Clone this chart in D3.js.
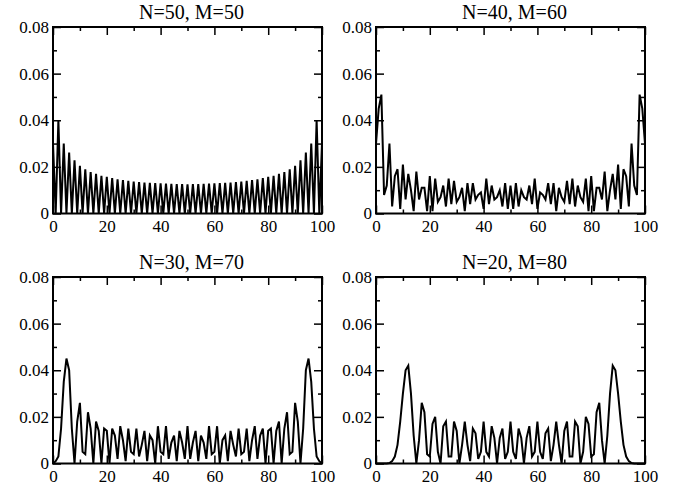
<!DOCTYPE html>
<html>
<head>
<meta charset="utf-8">
<script src="https://cdn.jsdelivr.net/npm/d3@7"></script>
<style>
  body { margin: 0; background: #fff; }
  text { font-family: "Liberation Serif", "Times New Roman", serif; fill: #000; }
</style>
</head>
<body>
<div id="my_dataviz"></div>
<script>
titles = ["N=50, M=50", "N=40, M=60", "N=30, M=70", "N=20, M=80"]

xTicks = [0, 20, 40, 60, 80, 100]
xMinor = [10, 30, 50, 70, 90]
yTicks = [0, 0.02, 0.04, 0.06, 0.08]
yMinor = [0.01, 0.03, 0.05, 0.07]

sites = d3.range(0, 101)

// N=50, M=50
p1 = [0.030,0,0.040,0,0.030,0,0.0262,0,0.0228,0,0.0205,0,0.0190,0,0.0178,0,0.0170,0,0.0162,0,
      0.0157,0,0.0152,0,0.0147,0,0.0143,0,0.0140,0,0.0137,0,0.0135,0,0.0133,0,0.0131,0,0.0130,0,
      0.0129,0,0.0128,0,0.0127,0,0.0126,0,0.0126,0,0.0125,0,0.0126,0,0.0126,0,0.0127,0,0.0128,0,
      0.0129,0,0.0130,0,0.0131,0,0.0133,0,0.0135,0,0.0137,0,0.0140,0,0.0143,0,0.0147,0,0.0152,0,
      0.0157,0,0.0162,0,0.0170,0,0.0178,0,0.0190,0,0.0205,0,0.0228,0,0.0262,0,0.030,0,0.040,0,0.030]

// N=40, M=60
p2 = [0.030,0.045,0.051,0.008,0.012,0.030,0.003,0.016,0.019,0.002,
      0.021,0.006,0.017,0.010,0.001,0.018,0.006,0.011,0.011,0.001,
      0.016,0.001,0.015,0.005,0.007,0.012,0.003,0.015,0.004,0.014,
      0.005,0.007,0.011,0.001,0.013,0.004,0.013,0.006,0.008,0.009,
      0.002,0.015,0.004,0.012,0.006,0.007,0.010,0.003,0.013,0.002,
      0.012,0.002,0.013,0.003,0.010,0.007,0.006,0.012,0.004,0.015,
      0.002,0.009,0.008,0.006,0.013,0.004,0.013,0.001,0.011,0.007,
      0.005,0.014,0.004,0.015,0.003,0.012,0.007,0.005,0.015,0.001,
      0.016,0.001,0.011,0.011,0.006,0.018,0.001,0.010,0.017,0.006,
      0.021,0.002,0.019,0.016,0.003,0.030,0.012,0.008,0.051,0.045,0.030]

// N=30, M=70
p3 = [0,0.001,0.003,0.015,0.035,0.045,0.040,0.015,0,0.018,
      0.026,0.005,0.004,0.022,0.015,0,0.018,0.014,0,0.015,
      0.014,0,0.015,0.012,0.002,0.016,0.010,0.001,0.015,0.005,
      0.004,0.015,0.003,0.008,0.014,0.001,0.012,0.010,0,0.016,
      0.005,0.004,0.016,0.002,0.009,0.012,0.001,0.014,0.009,0.002,
      0.016,0.002,0.009,0.014,0.001,0.012,0.009,0.002,0.016,0.004,
      0.005,0.016,0,0.010,0.012,0.001,0.014,0.008,0.003,0.015,
      0.004,0.005,0.015,0.001,0.010,0.016,0.002,0.012,0.015,0,
      0.014,0.015,0,0.014,0.018,0,0.015,0.022,0.004,0.005,
      0.026,0.018,0,0.015,0.040,0.045,0.035,0.015,0.003,0.001,0]

// N=20, M=80
p4 = [0,0,0,0,0,0.0002,0.001,0.003,0.008,0.018,
      0.030,0.040,0.042,0.030,0.012,0,0.010,0.026,0.022,0.004,
      0.003,0.017,0.020,0.005,0,0.016,0.018,0.003,0.003,0.018,
      0.014,0,0.008,0.018,0.008,0.001,0.015,0.013,0.002,0.005,
      0.018,0.005,0.003,0.016,0.011,0,0.011,0.015,0.002,0.005,
      0.018,0.005,0.002,0.015,0.011,0,0.011,0.016,0.003,0.005,
      0.018,0.005,0.002,0.013,0.015,0.001,0.008,0.018,0.008,0,
      0.014,0.018,0.003,0.003,0.018,0.016,0,0.005,0.020,0.017,
      0.003,0.004,0.022,0.026,0.010,0,0.012,0.030,0.042,0.040,
      0.030,0.018,0.008,0.003,0.001,0.0002,0,0,0,0,0]

series = [p1, p2, p3, p4]

var width = 682, height = 489
var panelW = 269, panelH = 186.5
var lefts = [53, 376], tops = [27, 277]

var svg = d3.select("#my_dataviz")
    .append("svg")
    .attr("width", width)
    .attr("height", height)

var fmtY = function(d) { return d === 0 ? "0" : d3.format(".2f")(d) }

series.forEach(function(values, i) {
    var g = svg.append("g")
        .attr("transform", "translate(" + lefts[i % 2] + "," + tops[Math.floor(i / 2)] + ")")

    var x = d3.scaleLinear().domain([0, 100]).range([0, panelW])
    var y = d3.scaleLinear().domain([0, 0.08]).range([panelH, 0])

    // major ticks with labels
    g.append("g")
        .attr("transform", "translate(0," + panelH + ")")
        .call(d3.axisBottom(x).tickValues(xTicks).tickSizeInner(-8).tickSizeOuter(0).tickPadding(6))
    g.append("g")
        .call(d3.axisLeft(y).tickValues(yTicks).tickFormat(fmtY).tickSizeInner(-8).tickSizeOuter(0).tickPadding(4))
    g.append("g")
        .call(d3.axisTop(x).tickValues(xTicks).tickFormat("").tickSizeInner(-8).tickSizeOuter(0))
    g.append("g")
        .attr("transform", "translate(" + panelW + ",0)")
        .call(d3.axisRight(y).tickValues(yTicks).tickFormat("").tickSizeInner(-8).tickSizeOuter(0))

    // minor ticks
    g.append("g")
        .attr("transform", "translate(0," + panelH + ")")
        .call(d3.axisBottom(x).tickValues(xMinor).tickFormat("").tickSizeInner(-4).tickSizeOuter(0))
    g.append("g")
        .call(d3.axisTop(x).tickValues(xMinor).tickFormat("").tickSizeInner(-4).tickSizeOuter(0))
    g.append("g")
        .call(d3.axisLeft(y).tickValues(yMinor).tickFormat("").tickSizeInner(-4).tickSizeOuter(0))
    g.append("g")
        .attr("transform", "translate(" + panelW + ",0)")
        .call(d3.axisRight(y).tickValues(yMinor).tickFormat("").tickSizeInner(-4).tickSizeOuter(0))

    g.selectAll(".domain").remove()
    g.selectAll(".tick line").attr("stroke", "#000").attr("stroke-width", 1.5)
    g.selectAll(".tick text").style("font-size", "17px").style("font-family", "'Liberation Serif', serif").attr("fill", "#000")

    g.append("path")
        .datum(sites)
        .attr("fill", "none")
        .attr("stroke", "#000")
        .attr("stroke-width", 2)
        .attr("stroke-linejoin", "miter")
        .attr("d", d3.line()
            .x(function(d) { return x(d) })
            .y(function(d) { return y(values[d]) }))

    g.append("rect")
        .attr("width", panelW)
        .attr("height", panelH)
        .attr("fill", "none")
        .attr("stroke", "#000")
        .attr("stroke-width", 2)

    g.append("text")
        .attr("x", panelW / 2 + 4)
        .attr("y", -8.5)
        .attr("text-anchor", "middle")
        .style("font-size", "20px")
        .text(titles[i])
})
</script>
</body>
</html>
